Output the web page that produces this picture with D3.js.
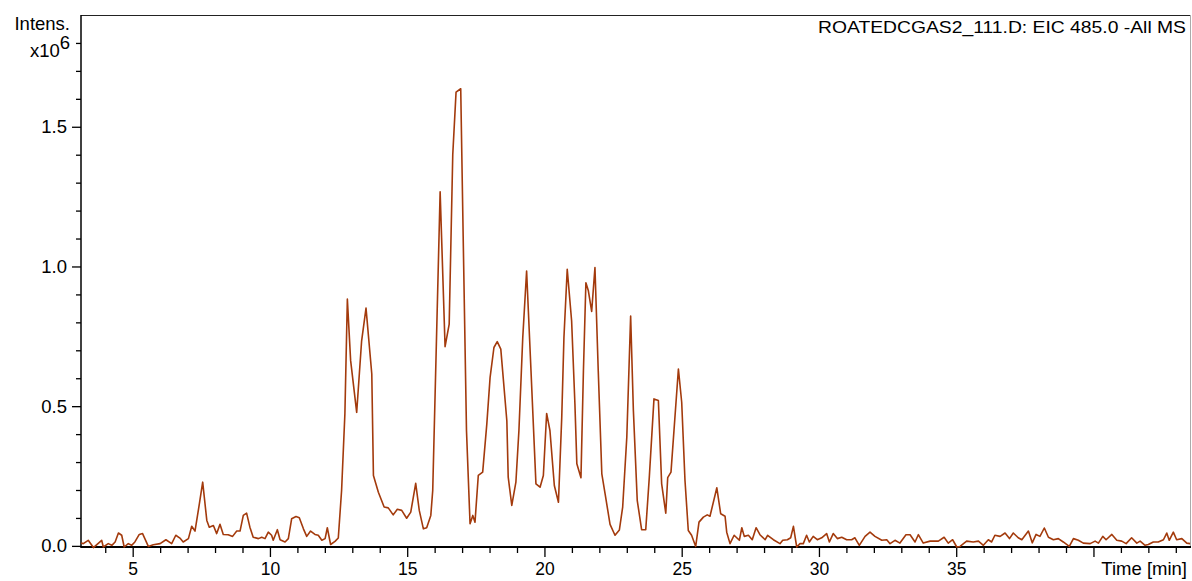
<!DOCTYPE html>
<html>
<head>
<meta charset="utf-8">
<script src="https://cdn.jsdelivr.net/npm/d3@7"></script>
<style>
  body { margin: 0; background: #fff; }
  svg text { font-family: "Liberation Sans", Arial, sans-serif; fill: #000; }
</style>
</head>
<body>
<div id="chart"></div>
<script>
// EIC trace (time in min, intensity in 1e6 counts)
var timeMin = [3.12, 3.20, 3.38, 3.57, 3.87, 3.93, 4.11, 4.24, 4.36, 4.48, 4.60, 4.69, 4.84, 4.96, 5.08, 5.24, 5.36, 5.57, 5.75, 6.00,
  6.21, 6.42, 6.57, 6.72, 6.84, 7.03, 7.15, 7.27, 7.43, 7.55, 7.70, 7.79, 7.94, 8.06, 8.18, 8.30, 8.48, 8.64, 8.79, 8.91,
  9.03, 9.15, 9.27, 9.39, 9.58, 9.70, 9.82, 9.94, 10.06, 10.12, 10.27, 10.37, 10.55, 10.67, 10.79, 10.95, 11.07, 11.22, 11.34, 11.48,
  11.64, 11.76, 11.89, 12.01, 12.09, 12.21, 12.37, 12.49, 12.61, 12.73, 12.82, 12.94, 13.16, 13.34, 13.50, 13.71, 13.77, 13.95, 14.16, 14.31,
  14.49, 14.64, 14.80, 14.98, 15.13, 15.31, 15.44, 15.59, 15.71, 15.86, 15.93, 16.20, 16.38, 16.53, 16.66, 16.78, 16.95, 17.04, 17.16, 17.29,
  17.39, 17.47, 17.59, 17.75, 17.90, 18.02, 18.16, 18.28, 18.41, 18.63, 18.68, 18.81, 18.96, 19.07, 19.21, 19.35, 19.51, 19.69, 19.84, 19.96,
  20.08, 20.20, 20.36, 20.51, 20.63, 20.71, 20.83, 20.99, 21.11, 21.18, 21.33, 21.42, 21.51, 21.60, 21.72, 21.84, 21.96, 22.09, 22.21, 22.39,
  22.57, 22.73, 22.85, 23.00, 23.14, 23.24, 23.38, 23.54, 23.69, 23.82, 23.99, 24.15, 24.27, 24.42, 24.49, 24.61, 24.88, 25.00, 25.12, 25.24,
  25.36, 25.51, 25.63, 25.79, 25.93, 26.03, 26.28, 26.42, 26.58, 26.64, 26.76, 26.91, 27.10, 27.19, 27.28, 27.43, 27.57, 27.71, 27.85, 28.04,
  28.13, 28.34, 28.58, 28.68, 28.85, 28.97, 29.07, 29.19, 29.31, 29.43, 29.55, 29.65, 29.79, 29.94, 30.10, 30.28, 30.38, 30.52, 30.67, 30.83,
  31.01, 31.19, 31.31, 31.47, 31.68, 31.86, 32.04, 32.29, 32.47, 32.59, 32.77, 32.95, 33.17, 33.32, 33.50, 33.62, 33.80, 34.05, 34.35, 34.56,
  34.71, 34.87, 35.02, 35.14, 35.38, 35.62, 35.81, 35.99, 36.17, 36.29, 36.41, 36.60, 36.78, 36.94, 37.08, 37.26, 37.39, 37.63, 37.77, 37.91,
  38.05, 38.21, 38.36, 38.54, 38.72, 38.90, 39.12, 39.27, 39.45, 39.63, 39.88, 40.06, 40.18, 40.34, 40.46, 40.67, 40.85, 41.03, 41.19, 41.39,
  41.58, 41.70, 41.88, 42.00, 42.18, 42.36, 42.55, 42.67, 42.76, 42.91, 43.03, 43.22, 43.40, 43.52];

var intensity = [0.010, 0.008, 0.020, -0.006, 0.020, -0.004, 0.008, 0.002, 0.014, 0.046, 0.038, -0.004, 0.008, 0.002, 0.014, 0.041, 0.044, -0.002, 0.004, 0.008,
  0.022, 0.008, 0.038, 0.028, 0.014, 0.026, 0.070, 0.053, 0.151, 0.228, 0.091, 0.067, 0.073, 0.044, 0.077, 0.041, 0.040, 0.034, 0.053, 0.053,
  0.109, 0.117, 0.067, 0.031, 0.026, 0.031, 0.026, 0.049, 0.038, 0.020, 0.058, 0.022, 0.014, 0.026, 0.097, 0.105, 0.101, 0.061, 0.034, 0.053,
  0.041, 0.038, 0.020, 0.026, 0.065, 0.005, 0.016, 0.028, 0.198, 0.472, 0.883, 0.663, 0.478, 0.734, 0.851, 0.615, 0.252, 0.192, 0.139, 0.136,
  0.111, 0.131, 0.127, 0.099, 0.121, 0.224, 0.127, 0.061, 0.065, 0.109, 0.198, 1.267, 0.713, 0.794, 1.401, 1.624, 1.636, 1.103, 0.413, 0.079,
  0.109, 0.085, 0.252, 0.264, 0.436, 0.603, 0.710, 0.731, 0.704, 0.448, 0.246, 0.145, 0.228, 0.413, 0.746, 0.984, 0.627, 0.222, 0.210, 0.252,
  0.474, 0.413, 0.216, 0.156, 0.460, 0.746, 0.990, 0.805, 0.508, 0.294, 0.244, 0.627, 0.942, 0.913, 0.839, 0.996, 0.627, 0.258, 0.186, 0.077,
  0.038, 0.057, 0.139, 0.389, 0.823, 0.484, 0.163, 0.058, 0.058, 0.246, 0.526, 0.520, 0.222, 0.117, 0.244, 0.264, 0.633, 0.514, 0.234, 0.055,
  0.038, -0.002, 0.085, 0.103, 0.111, 0.106, 0.208, 0.115, 0.106, 0.049, 0.008, 0.038, 0.020, 0.065, 0.034, 0.038, 0.022, 0.065, 0.040, 0.022,
  0.038, 0.022, 0.008, 0.020, 0.022, 0.029, 0.070, -0.004, 0.008, 0.008, 0.038, 0.014, 0.034, 0.022, 0.029, 0.044, 0.014, 0.044, 0.026, 0.031,
  0.022, 0.022, 0.029, 0.002, 0.034, 0.049, 0.034, 0.020, 0.022, 0.008, 0.020, 0.010, 0.040, 0.040, 0.014, 0.040, 0.010, 0.017, 0.017, 0.031,
  0.010, 0.022, -0.004, -0.002, 0.017, 0.014, 0.017, 0.002, 0.022, 0.014, 0.038, 0.034, 0.046, 0.026, 0.046, 0.029, 0.022, 0.053, 0.011, 0.041,
  0.034, 0.064, 0.031, 0.022, 0.026, 0.014, -0.002, 0.026, 0.020, 0.010, 0.008, 0.017, 0.010, 0.034, 0.022, 0.041, 0.020, 0.017, 0.008, 0.029,
  0.010, 0.017, 0.002, 0.005, 0.014, 0.014, 0.022, 0.046, 0.020, 0.049, 0.022, 0.026, 0.010, 0.008];

var yMajor = [0, 0.5, 1.0, 1.5];
var yLabels = ["0.0", "0.5", "1.0", "1.5"];
var xMajor = [5, 10, 15, 20, 25, 30, 35, 40];
var xLabels = ["5", "10", "15", "20", "25", "30", "35", ""];
var title = "ROATEDCGAS2_111.D: EIC 485.0 -All MS";

var width = 1192, height = 581;
var mLeft = 81, mRight = 1190, mTop = 15, mBottom = 547;

var svg = d3.select("#chart").append("svg")
  .attr("width", width)
  .attr("height", height);

var x = d3.scaleLinear().domain([3.117, 43.517]).range([mLeft, mRight]);
var y = d3.scaleLinear().domain([-0.004, 1.9]).range([mBottom, mTop]);

// frame: top dark, right light grey
svg.append("line").attr("x1", mLeft).attr("x2", mRight).attr("y1", mTop + 0.5).attr("y2", mTop + 0.5)
  .attr("stroke", "#222").attr("stroke-width", 1.2);
svg.append("line").attr("x1", mRight + 0.5).attr("x2", mRight + 0.5).attr("y1", mTop).attr("y2", mBottom)
  .attr("stroke", "#aaa").attr("stroke-width", 1);

// minor ticks
var yMinor = d3.range(0, 19).map(function(i) { return i / 10; }).filter(function(v) { return yMajor.indexOf(v) < 0; });
var xMinor = d3.range(4, 44).filter(function(v) { return v % 5 !== 0; });

svg.append("g")
  .attr("transform", "translate(" + mLeft + ",0)")
  .call(d3.axisLeft(y).tickValues(yMinor).tickSize(5).tickFormat(""))
  .call(function(g) { g.select(".domain").remove(); g.selectAll("line").attr("stroke-width", 1.3); });

svg.append("g")
  .attr("transform", "translate(0," + mBottom + ")")
  .call(d3.axisBottom(x).tickValues(xMinor).tickSize(6).tickFormat(""))
  .call(function(g) { g.select(".domain").remove(); g.selectAll("line").attr("stroke-width", 1.3); });

// major ticks with labels
svg.append("g")
  .attr("transform", "translate(" + mLeft + ",0)")
  .call(d3.axisLeft(y).tickValues(yMajor).tickSize(9).tickPadding(5)
    .tickFormat(function(d, i) { return yLabels[i]; }))
  .call(function(g) {
    g.select(".domain").remove();
    g.selectAll("line").attr("stroke-width", 1.3);
    g.selectAll("text").attr("font-size", 18.5).attr("font-family", null);
  });

svg.append("g")
  .attr("transform", "translate(0," + mBottom + ")")
  .call(d3.axisBottom(x).tickValues(xMajor).tickSize(10).tickPadding(6)
    .tickFormat(function(d, i) { return xLabels[i]; }))
  .call(function(g) {
    g.select(".domain").remove();
    g.selectAll("line").attr("stroke-width", 1.3);
    g.selectAll("text").attr("font-size", 17.5).attr("font-family", null);
  });

// axis lines
svg.append("line").attr("x1", mLeft).attr("x2", mLeft).attr("y1", mTop).attr("y2", mBottom + 1)
  .attr("stroke", "#000").attr("stroke-width", 1.5);
svg.append("line").attr("x1", mLeft).attr("x2", mRight + 1).attr("y1", mBottom).attr("y2", mBottom)
  .attr("stroke", "#000").attr("stroke-width", 2);

// trace
var pts = timeMin.map(function(t, i) { return [t, intensity[i]]; });
svg.append("path")
  .datum(pts)
  .attr("fill", "none")
  .attr("stroke", "#a33a0c")
  .attr("stroke-width", 1.6)
  .attr("stroke-linejoin", "round")
  .attr("d", d3.line()
    .x(function(d) { return x(d[0]); })
    .y(function(d) { return y(d[1]); }));

// labels
svg.append("text").attr("x", 70).attr("y", 30).attr("text-anchor", "end")
  .attr("font-size", 18.5).text("Intens.");
var exp = svg.append("text").attr("x", 70).attr("y", 57).attr("text-anchor", "end").attr("font-size", 18.5);
exp.append("tspan").text("x10");
exp.append("tspan").attr("dy", -8).text("6");

svg.append("text").attr("x", 1186).attr("y", 33).attr("text-anchor", "end")
  .attr("font-size", 17).attr("textLength", 368).attr("lengthAdjust", "spacingAndGlyphs")
  .text(title);

svg.append("text").attr("x", 1187).attr("y", 575).attr("text-anchor", "end")
  .attr("font-size", 18.5).text("Time [min]");
</script>
</body>
</html>
